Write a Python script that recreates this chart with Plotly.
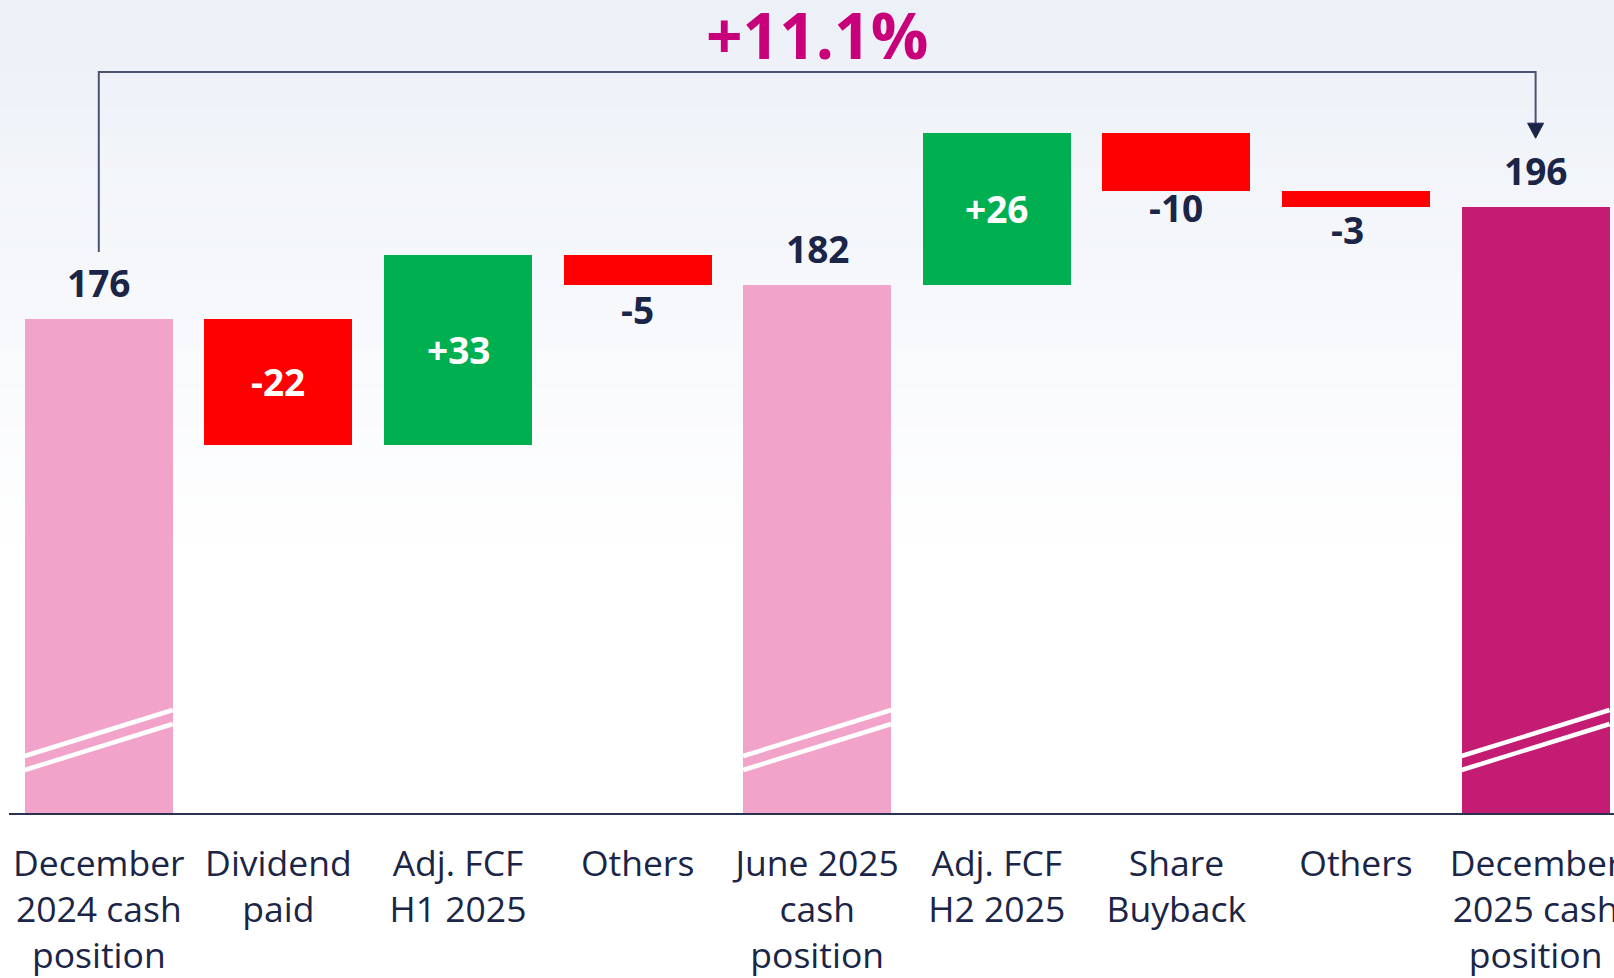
import plotly.graph_objects as go

# ---------------- data ----------------
categories = ["December<br>2024 cash<br>position", "Dividend<br>paid", "Adj. FCF<br>H1 2025",
              "Others", "June 2025<br>cash<br>position", "Adj. FCF<br>H2 2025",
              "Share<br>Buyback", "Others", "December<br>2025 cash<br>position"]
measures = ["total", "relative", "relative", "relative", "total",
            "relative", "relative", "relative", "total"]
values = [176, -22.1, 33.4, -5.3, 182, 26.7, -10.2, -2.8, 195.7]
value_labels = ["176", "-22", "+33", "-5", "182", "+26", "-10", "-3", "196"]
growth_label = "+11.1%"

# ---------------- style ----------------
NAVY = "#1B2547"
PINK = "#F1A3CA"
MAGENTA = "#C41C72"
RED = "#FF0000"
GREEN = "#00B050"
W, H = 1614, 978
ML, MB = 9, 165
PLOT_H = H - MB
PPU = 5.7                 # pixels per unit
Y0 = 89.33                # broken axis start
Y1 = Y0 + PLOT_H / PPU
STEP_PX = 179.6           # category spacing in px
X_LO = -0.5
X_HI = X_LO + (W - ML) / STEP_PX
BAR_W = 148 / STEP_PX
FONT = "Open Sans"


def dy(px):
    return px / PPU


def dx(px):
    return px / STEP_PX


# compute bars from measures
bases, heights, colors, tops, bottoms = [], [], [], [], []
level = 0
total_colors = [PINK, PINK, MAGENTA]
ti = 0
for m, v in zip(measures, values):
    if m == "total":
        bases.append(0)
        heights.append(v)
        level = v
        colors.append(total_colors[ti])
        ti += 1
        tops.append(v)
        bottoms.append(Y0)
    else:
        bases.append(level)
        heights.append(v)
        colors.append(GREEN if v > 0 else RED)
        tops.append(max(level, level + v))
        bottoms.append(min(level, level + v))
        level += v

xs = list(range(len(categories)))

fig = go.Figure()
fig.add_trace(go.Bar(x=xs, y=heights, base=bases, width=BAR_W,
                     marker=dict(color=colors, line=dict(width=0)),
                     hoverinfo="skip", showlegend=False))

annotations = []
# value labels: placement style per bar
placement = ["above", "inside", "inside", "below", "above", "inside", "below", "below", "above"]
below_shift = {3: 25, 6: 17, 7: 23}
x_shift = {7: -9}
for i, (lab, pl) in enumerate(zip(value_labels, placement)):
    if pl == "above":
        y, ys, col = tops[i], 36.4, NAVY
    elif pl == "inside":
        y, ys, col = (tops[i] + bottoms[i]) / 2, 0, "white"
    else:
        y, ys, col = bottoms[i], -below_shift[i], NAVY
    annotations.append(dict(x=xs[i], y=y, xref="x", yref="y", text=lab, showarrow=False,
                            yanchor="middle", xanchor="center", yshift=ys,
                            xshift=x_shift.get(i, 0),
                            font=dict(family=FONT, size=37, color=col, weight=700)))

# growth bracket
first_i, last_i = 0, len(categories) - 1
h_y = Y0 + dy(PLOT_H - 72)
left_bottom = tops[first_i] + dy(67)
right_tip = tops[last_i] + dy(68.5)
arrow_len = dy(15)
annotations.append(dict(x=(first_i + last_i) / 2, y=Y0 + dy(PLOT_H - 34), xref="x", yref="y",
                        text=growth_label, showarrow=False, yanchor="middle",
                        font=dict(family=FONT, size=64, color="#C8007A", weight=700)))

shapes = []
# background gradient
top_c = (236, 240, 247)
grad_px = 560
n = 56
for k in range(n):
    t = k / (n - 1)
    c = tuple(round(top_c[j] + (255 - top_c[j]) * t) for j in range(3))
    y_hi = 1 - (k * grad_px / n) / PLOT_H
    y_lo = 1 - ((k + 1) * grad_px / n) / PLOT_H
    shapes.append(dict(type="rect", xref="paper", yref="paper", x0=-0.01, x1=1.01,
                       y0=y_lo, y1=y_hi + 0.002, fillcolor="rgb(%d,%d,%d)" % c,
                       line=dict(width=0), layer="below"))

# break marks on total bars
for i, m in enumerate(measures):
    if m == "total":
        for (lft, rgt) in [(57, 103), (43, 89)]:
            shapes.append(dict(type="line", xref="x", yref="y",
                               x0=xs[i] - BAR_W / 2, x1=xs[i] + BAR_W / 2,
                               y0=Y0 + dy(lft), y1=Y0 + dy(rgt),
                               line=dict(color="white", width=4.5), layer="above"))

LINE_C = "#4A5372"
shapes.append(dict(type="path", xref="x", yref="y",
                   path="M %f %f L %f %f L %f %f L %f %f" % (
                       xs[first_i], left_bottom, xs[first_i], h_y,
                       xs[last_i], h_y, xs[last_i], right_tip + arrow_len),
                   line=dict(color=LINE_C, width=2), layer="above"))
shapes.append(dict(type="path", xref="x", yref="y",
                   path="M %f %f L %f %f L %f %f Z" % (
                       xs[last_i] - dx(8), right_tip + arrow_len,
                       xs[last_i] + dx(8), right_tip + arrow_len,
                       xs[last_i], right_tip),
                   fillcolor=NAVY, line=dict(color=NAVY, width=1), layer="above"))

fig.update_layout(
    width=W, height=H,
    margin=dict(l=ML, r=0, t=0, b=MB, pad=0),
    paper_bgcolor="white", plot_bgcolor="rgba(0,0,0,0)",
    xaxis=dict(range=[X_LO, X_HI], tickmode="array", tickvals=xs, ticktext=categories,
               showgrid=False, zeroline=False, showline=True, linecolor="#2A3150", linewidth=2,
               ticks="outside", ticklen=18, tickcolor="rgba(0,0,0,0)",
               tickfont=dict(family=FONT, size=35.5, color=NAVY),
               ticklabeloverflow="allow",
               automargin=False, fixedrange=True),
    yaxis=dict(range=[Y0, Y1], visible=False, showgrid=False, zeroline=False,
               automargin=False, fixedrange=True),
    annotations=annotations, shapes=shapes, bargap=0,
)

fig.write_html("out.html", config={"displayModeBar": False},
               post_script="document.body.style.margin='0';")
